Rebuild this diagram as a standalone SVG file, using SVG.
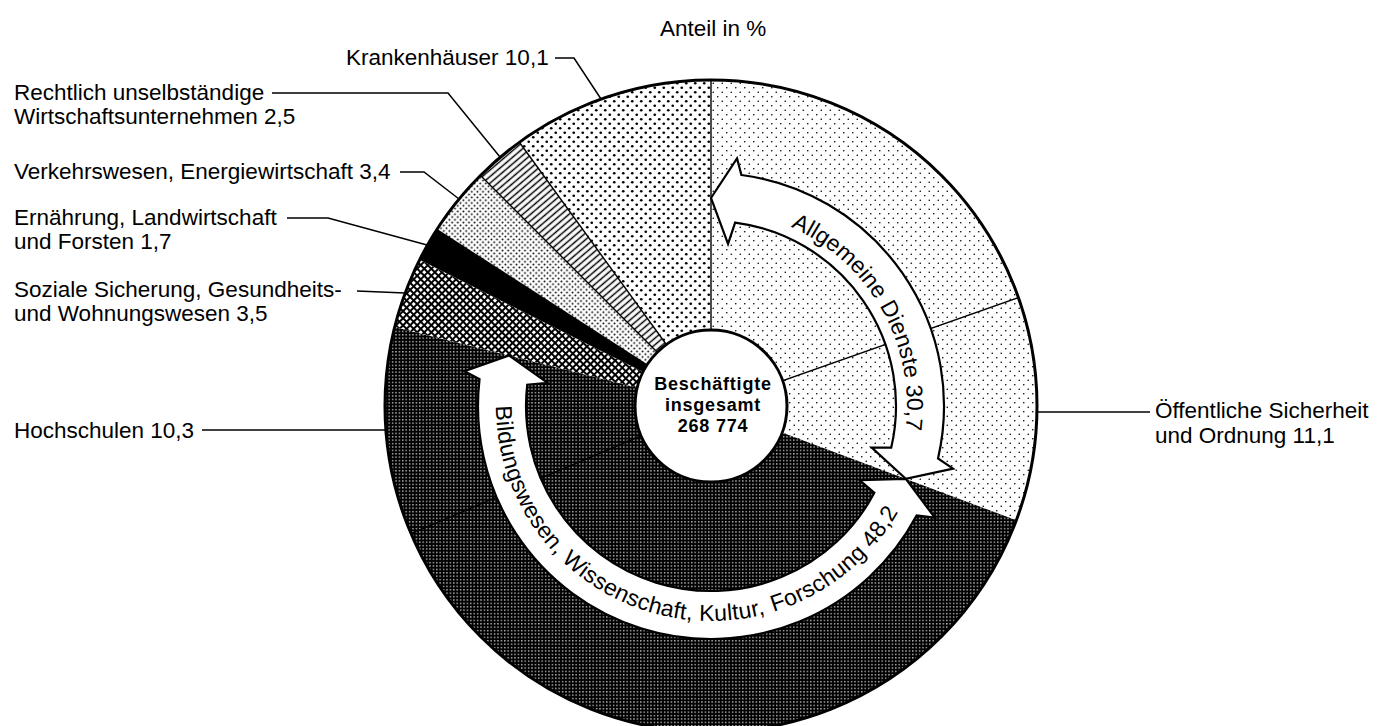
<svg xmlns="http://www.w3.org/2000/svg" width="1377" height="726" viewBox="0 0 1377 726">
<style>
.lbl{font-family:"Liberation Sans",Arial,sans-serif;font-size:22.5px;fill:#000}
.arw{font-family:"Liberation Sans",Arial,sans-serif;font-size:23px;fill:#000}
.arwb{font-family:"Liberation Sans",Arial,sans-serif;font-size:23px;fill:#000;letter-spacing:0.3px}
.ctr{font-family:"Liberation Sans",Arial,sans-serif;font-size:18px;font-weight:bold;fill:#000;text-anchor:middle;letter-spacing:0.8px}
.lead{stroke:#000;stroke-width:1.5;fill:none}
.rad{stroke:#000;stroke-width:1.4;fill:none}
.band{fill:#fff;stroke:#000;stroke-width:2.2;stroke-linejoin:miter}
</style>
<defs>
<pattern id="pLight" width="9" height="9" patternUnits="userSpaceOnUse"><rect width="9" height="9" fill="#fff"/><circle cx="2.25" cy="2.25" r="0.8" fill="#000"/><circle cx="6.75" cy="6.75" r="0.8" fill="#000"/></pattern>
<pattern id="pKrank" width="9" height="9" patternUnits="userSpaceOnUse"><rect width="9" height="9" fill="#fff"/><circle cx="2.25" cy="2.25" r="1.35" fill="#000"/><circle cx="6.75" cy="6.75" r="1.35" fill="#000"/></pattern>
<pattern id="pVerk" width="5.6" height="5.6" patternUnits="userSpaceOnUse"><rect width="5.6" height="5.6" fill="#fff"/><circle cx="1.4" cy="1.4" r="0.95" fill="#000"/><circle cx="4.2" cy="4.2" r="0.95" fill="#000"/></pattern>
<pattern id="pStripe" width="10" height="5" patternUnits="userSpaceOnUse" patternTransform="rotate(-40.5)"><rect width="10" height="5" fill="#fff"/><line x1="0" y1="2.5" x2="10" y2="2.5" stroke="#000" stroke-width="1.5"/></pattern>
<pattern id="pCross" width="5" height="5" patternUnits="userSpaceOnUse" patternTransform="rotate(45)"><rect width="5" height="5" fill="#000"/><rect x="1" y="1" width="3" height="3" fill="#fff"/></pattern>
<pattern id="pDark" width="3.4" height="3.4" patternUnits="userSpaceOnUse"><rect width="3.4" height="3.4" fill="#000"/><rect x="1" y="1" width="1.2" height="1.2" fill="#fff"/></pattern>
<path id="tpA" d="M745.04,212.98 A196,196 0 0 1 893.98,476.24" fill="none"/>
<path id="tpB" d="M499.27,368.67 A215,215 0 0 0 913.67,477.77" fill="none"/>
</defs>

<g id="seg-allgemeine-dienste">
<path d="M711,406 L711,80 A326,326 0 0 1 1016.32,520.26 Z" fill="url(#pLight)"/>
</g>
<g id="seg-bildungswesen">
<path d="M711,406 L1016.32,520.26 A326,326 0 0 1 394.73,326.91 Z" fill="url(#pDark)"/>
</g>
<g id="seg-soziale-sicherung">
<path d="M711,406 L394.73,326.91 A326,326 0 0 1 419.61,259.83 Z" fill="url(#pCross)"/>
</g>
<g id="seg-ernaehrung">
<path d="M711,406 L419.61,259.83 A326,326 0 0 1 436.87,229.58 Z" fill="#000"/>
</g>
<g id="seg-verkehrswesen">
<path d="M711,406 L436.87,229.58 A326,326 0 0 1 480.48,175.48 Z" fill="url(#pVerk)"/>
</g>
<g id="seg-rechtlich">
<path d="M711,406 L480.48,175.48 A326,326 0 0 1 519.38,142.26 Z" fill="url(#pStripe)"/>
</g>
<g id="seg-krankenhaeuser">
<path d="M711,406 L519.38,142.26 A326,326 0 0 1 711,80 Z" fill="url(#pKrank)"/>
</g>

<g id="radial-lines">
<path class="rad" d="M711,406 L711,80"/>
<path class="rad" d="M711,406 L1018.41,297.5"/>
<path class="rad" d="M711,406 L436.87,229.58"/>
<path class="rad" d="M711,406 L480.48,175.48"/>
<path class="rad" d="M711,406 L519.38,142.26"/>
<path class="rad" d="M711,406 L410.99,533.59"/>
</g>

<g id="arrow-allgemeine">
<path class="band" d="M711,198 L737.03,158.36 L741.41,174.99 A233,233 0 0 1 938.03,458.41 L953.04,468.6 L905.8,478.9 L871.71,447.56 L891.26,447.62 A185,185 0 0 0 735.15,222.58 L728.04,243.89 Z"/>
<text class="arw"><textPath href="#tpA" startOffset="50%" text-anchor="middle">Allgemeine Dienste 30,7</textPath></text>
</g>

<g id="arrow-bildung">
<path class="band" d="M905.8,478.9 L934.73,517.55 L916.73,515.39 A233,233 0 0 1 479.54,379.22 L464.45,371.17 L509.21,355.54 L547.62,382.92 L527.23,384.74 A185,185 0 0 0 874.35,492.85 L859.56,480.07 Z"/>
<text class="arwb"><textPath href="#tpB" startOffset="37.4">Bildungswesen,</textPath></text>
<text class="arwb"><textPath href="#tpB" startOffset="209.4">Wissenschaft,</textPath></text>
<text class="arwb"><textPath href="#tpB" startOffset="363.1">Kultur,</textPath></text>
<text class="arwb"><textPath href="#tpB" startOffset="438.4">Forschung 48,2</textPath></text>
</g>

<g id="center">
<circle cx="711" cy="406" r="76" fill="#fff" stroke="#000" stroke-width="3"/>
<text class="ctr" x="713" y="390">Beschäftigte</text>
<text class="ctr" x="713" y="411">insgesamt</text>
<text class="ctr" x="713" y="432">268 774</text>
</g>

<circle id="outline" cx="711" cy="406" r="326" fill="none" stroke="#000" stroke-width="3"/>

<g id="connectors">
<path class="lead" d="M555,58 L574,58 L601,99"/>
<path class="lead" d="M272,93 L448,93 L500,157"/>
<path class="lead" d="M400,172 L424,172 L459,199"/>
<path class="lead" d="M287,218 L328,218 L427,245"/>
<path class="lead" d="M357,291 L405,293"/>
<path class="lead" d="M202,430 L385,430"/>
<path class="lead" d="M1037,412 L1150,412"/>
</g>

<g id="labels">
<text class="lbl" x="660" y="36">Anteil in %</text>
<text class="lbl" x="346" y="65">Krankenhäuser 10,1</text>
<text class="lbl" x="14" y="100">Rechtlich unselbständige</text>
<text class="lbl" x="14" y="124">Wirtschaftsunternehmen 2,5</text>
<text class="lbl" x="14" y="179">Verkehrswesen, Energiewirtschaft 3,4</text>
<text class="lbl" x="14" y="225">Ernährung, Landwirtschaft</text>
<text class="lbl" x="14" y="249">und Forsten 1,7</text>
<text class="lbl" x="14" y="297">Soziale Sicherung, Gesundheits-</text>
<text class="lbl" x="14" y="321">und Wohnungswesen 3,5</text>
<text class="lbl" x="14" y="438">Hochschulen 10,3</text>
<text class="lbl" x="1155" y="418">Öffentliche Sicherheit</text>
<text class="lbl" x="1155" y="443">und Ordnung 11,1</text>
</g>
</svg>
